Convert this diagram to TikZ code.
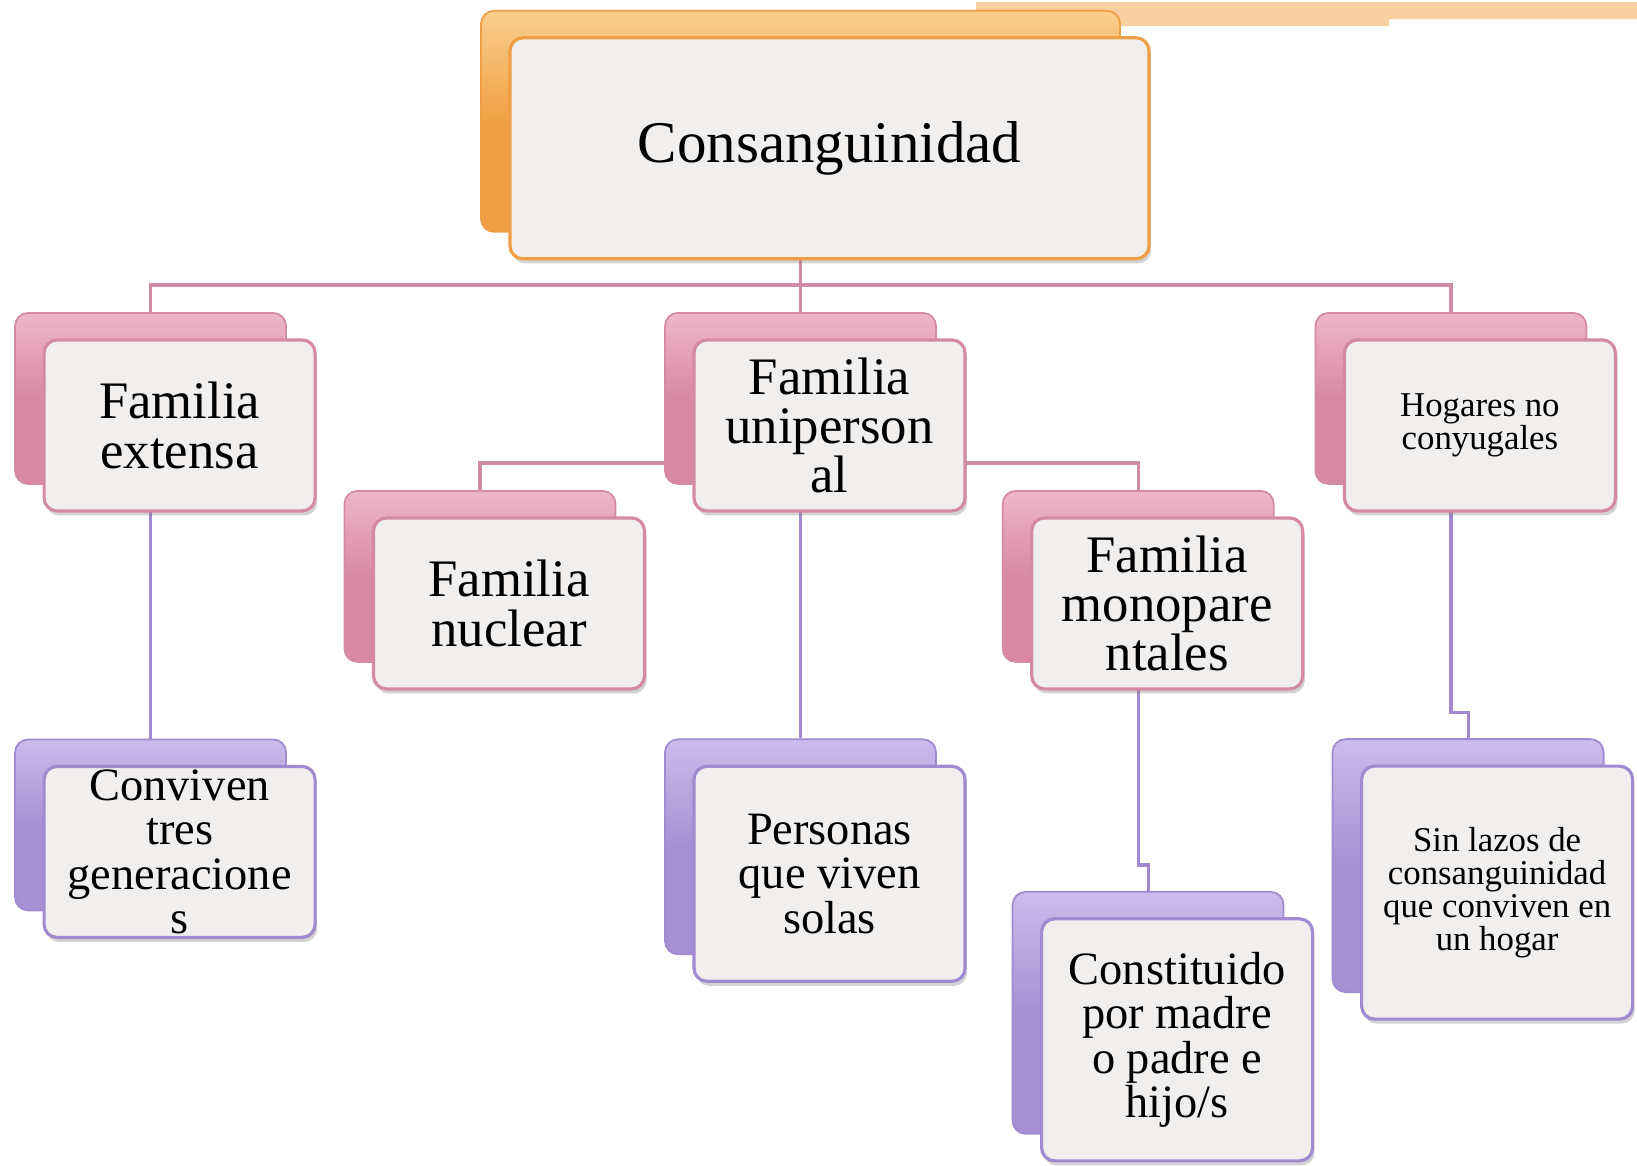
\documentclass[tikz,border=0pt]{standalone}
\usepackage{fontspec}
\setmainfont{Liberation Serif}
\usetikzlibrary{shadows,backgrounds}

\definecolor{orangeDk}{RGB}{240,160,66}
\definecolor{orangeLt}{RGB}{250,206,142}
\definecolor{orangeEdge}{RGB}{238,158,68}
\definecolor{pinkDk}{RGB}{216,136,163}
\definecolor{pinkLt}{RGB}{238,182,200}
\definecolor{pinkEdge}{RGB}{212,138,165}
\definecolor{pinkLine}{RGB}{206,140,166}
\definecolor{lilacDk}{RGB}{166,144,212}
\definecolor{lilacLt}{RGB}{202,188,236}
\definecolor{lilacEdge}{RGB}{160,138,208}
\definecolor{lilacLine}{RGB}{162,136,204}
\definecolor{cardFill}{RGB}{241,239,237}
\definecolor{stripFill}{RGB}{248,208,162}

\tikzset{
  card/.style={rectangle, rounded corners=0.13cm, minimum width=2.71cm,
    minimum height=1.71cm, inner sep=0pt},
  orangeback/.style={card, draw=orangeEdge, line width=0.5pt,
    top color=orangeLt, bottom color=orangeDk, middle color=orangeDk},
  pinkback/.style={card, draw=pinkEdge, line width=0.5pt,
    top color=pinkLt, bottom color=pinkDk, middle color=pinkDk},
  lilacback/.style={card, draw=lilacEdge, line width=0.5pt,
    top color=lilacLt, bottom color=lilacDk, middle color=lilacDk},
  front/.style={card, line width=0.9pt, fill=cardFill, align=center,
    drop shadow={shadow xshift=0.6pt, shadow yshift=-1.3pt, opacity=0.35}},
  pinkfront/.style={front, draw=pinkEdge},
  lilacfront/.style={front, draw=lilacEdge},
  titletext/.style={font=\fontsize{16.8}{18}\selectfont},
  bigtext/.style={font=\fontsize{15}{14}\selectfont},
  midtext/.style={font=\fontsize{13.2}{12.6}\selectfont},
  smalltext/.style={font=\fontsize{9.9}{9.4}\selectfont},
  pinkconn/.style={draw=pinkLine, line width=0.9pt},
  lilacconn/.style={draw=lilacLine, line width=0.9pt},
}

\begin{document}
\begin{tikzpicture}
\useasboundingbox (0,0) rectangle (16.37,-11.65);
\fill[stripFill] (9.76,-0.02) -- (16.37,-0.02) -- (16.37,-0.19) -- (13.89,-0.19)
  -- (13.89,-0.26) -- (9.76,-0.26) -- cycle;

% raiz
\node[orangeback, minimum width=6.39cm, minimum height=2.21cm] (topb) at (8.005,-1.213) {};
\node[front, draw=orangeEdge, minimum width=6.39cm, minimum height=2.21cm, titletext] (top) at (8.295,-1.483) {Consanguinidad};

% primer nivel
\node[pinkback] (extb) at (1.506,-3.984) {};
\node[pinkfront, bigtext] (ext) at (1.796,-4.254) {Familia\\extensa};
\node[pinkback] (unib) at (8.005,-3.984) {};
\node[pinkfront, bigtext] (uni) at (8.295,-4.254) {Familia\\uniperson\\al};
\node[pinkback] (hogb) at (14.509,-3.984) {};
\node[pinkfront, smalltext] (hog) at (14.799,-4.254) {Hogares no\\conyugales};

% segundo nivel
\node[pinkback] (nucb) at (4.80,-5.764) {};
\node[pinkfront, bigtext] (nuc) at (5.09,-6.034) {Familia\\nuclear};
\node[pinkback] (monb) at (11.382,-5.764) {};
\node[pinkfront, bigtext] (mon) at (11.672,-6.034) {Familia\\monopare\\ntales};

% descripciones
\node[lilacback] (convb) at (1.506,-8.249) {};
\node[lilacfront, midtext] (conv) at (1.796,-8.519) {Conviven\\tres\\generacione\\s};
\node[lilacback, minimum height=2.15cm] (persb) at (8.005,-8.468) {};
\node[lilacfront, midtext, minimum height=2.15cm] (pers) at (8.295,-8.738) {Personas\\que viven\\solas};
\node[lilacback, minimum height=2.42cm] (constb) at (11.481,-10.128) {};
\node[lilacfront, midtext, minimum height=2.42cm] (const) at (11.771,-10.398) {Constituido\\por madre\\o padre e\\hijo/s};
\node[lilacback, minimum height=2.53cm] (sinb) at (14.681,-8.656) {};
\node[lilacfront, smalltext, minimum height=2.53cm] (sin) at (14.971,-8.926) {Sin lazos de\\consanguinidad\\que conviven en\\un hogar};

\begin{scope}[on background layer]
\draw[pinkconn] (topb.center) |- ([yshift=0.27cm]extb.north) -- (extb.north);
\draw[pinkconn] (topb.center) -- (unib.north);
\draw[pinkconn] (topb.center) |- ([yshift=0.27cm]hogb.north) -- (hogb.north);
\draw[pinkconn] (unib.center) |- ([yshift=0.27cm]nucb.north) -- (nucb.north);
\draw[pinkconn] (unib.center) |- ([yshift=0.27cm]monb.north) -- (monb.north);

\draw[lilacconn] (extb.center) -- (convb.north);
\draw[lilacconn] (unib.center) -- (persb.north);
\draw[lilacconn] (monb.center) |- ([yshift=0.26cm]constb.north) -- (constb.north);
\draw[lilacconn] (hogb.center) |- ([yshift=0.26cm]sinb.north) -- (sinb.north);
\end{scope}
\end{tikzpicture}
\end{document}
